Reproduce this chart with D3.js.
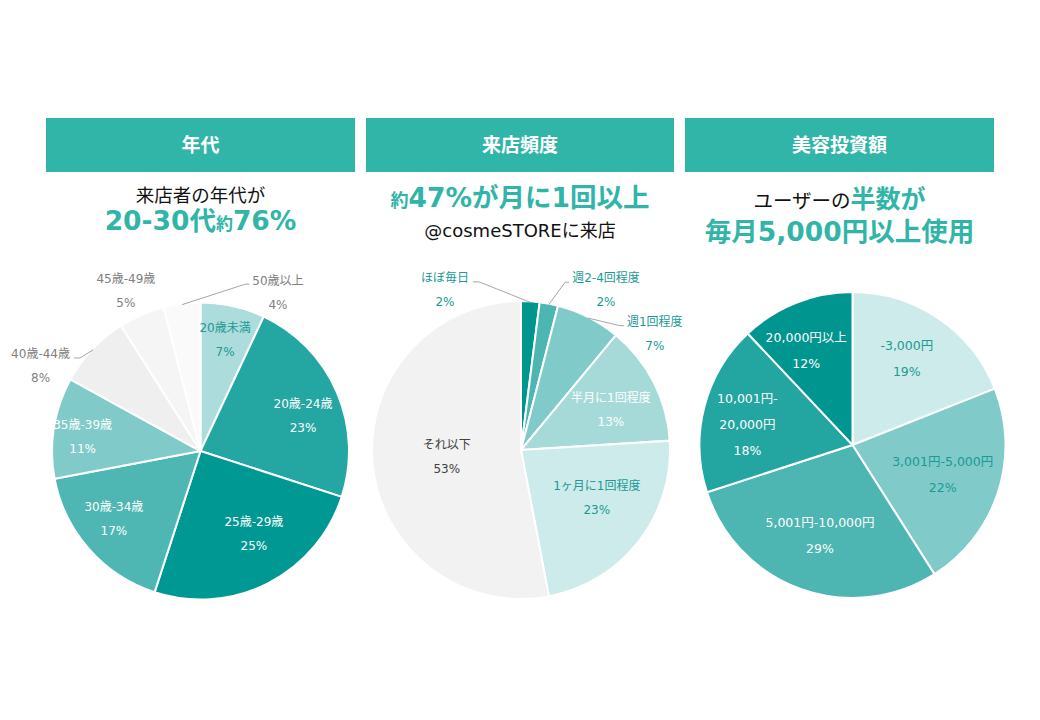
<!DOCTYPE html>
<html>
<head>
<meta charset="utf-8">
<script src="https://cdn.jsdelivr.net/npm/d3@7"></script>
<style>
  body { margin: 0; background: #fff; }
  text { font-family: "DejaVu Sans", "Noto Sans CJK JP", sans-serif; }
</style>
</head>
<body>
<div id="container"></div>
<script>
// --- data (percent) ---
const ageCategories = ['20歳未満', '20歳-24歳', '25歳-29歳', '30歳-34歳', '35歳-39歳', '40歳-44歳', '45歳-49歳', '50歳以上'];
const ageValues = [7, 23, 25, 17, 11, 8, 5, 4];

const freqCategories = ['ほぼ毎日', '週2-4回程度', '週1回程度', '半月に1回程度', '1ヶ月に1回程度', 'それ以下'];
const freqValues = [2, 2, 7, 13, 23, 53];

const spendCategories = ['-3,000円', '3,001円-5,000円', '5,001円-10,000円', '10,001円-\n20,000円', '20,000円以上'];
const spendValues = [19, 22, 29, 18, 12];

const panelTitles = ['年代', '来店頻度', '美容投資額'];

// --- styles ---
const teal = '#30b5a8';
const ageColors = ['#acdcdb', '#24a6a2', '#009893', '#4eb7b3', '#80cbc9', '#efefef', '#f5f5f5', '#fafafa'];
const ageText = ['#1a9a94', '#fff', '#fff', '#fff', '#fff', '#808080', '#808080', '#808080'];
const freqColors = ['#00968f', '#4db6b2', '#80cbc9', '#a6dad9', '#cdebea', '#f2f2f2'];
const freqText = ['#1a9a94', '#1a9a94', '#1a9a94', '#fff', '#1a9a94', '#404040'];
const spendColors = ['#cdebea', '#80cbc9', '#4db6b3', '#23a5a1', '#00968f'];
const spendText = ['#1a9a94', '#1a9a94', '#fff', '#fff', '#fff'];

// label placement: k = radius factor, a = angle override (deg), leader = draw line
const ageLayout = [
  { k: 0.77, a: 12.4 }, { k: 0.73, a: 71 }, { k: 0.66, a: 147 }, { k: 0.74, a: 232 }, { k: 0.80, a: 277 },
  { k: 1.22, a: 298, leader: true }, { k: 1.19, a: 335 }, { k: 1.19, a: 26, leader: true }
];
const freqLayout = [
  { k: 1.19, a: 334.6, leader: true }, { k: 1.215, a: 28, leader: true }, { k: 1.19, a: 49, leader: true },
  { k: 0.66, a: 66 }, { k: 0.60, a: 122 }, { k: 0.50, a: 265 }
];
const spendLayout = [
  { k: 0.67, a: 32 }, { k: 0.62, a: 108 }, { k: 0.63, a: 199.7 }, { k: 0.70, a: 281 }, { k: 0.69, a: 334 }
];

const W = 1040, H = 720;
const svg = d3.select('#container').append('svg').attr('width', W).attr('height', H);

// header bars
const headers = [[46, 355], [366, 674], [685, 994]];
headers.forEach((hb, i) => {
  svg.append('rect')
    .attr('x', hb[0]).attr('y', 118)
    .attr('width', hb[1] - hb[0]).attr('height', 54)
    .attr('fill', teal);
  svg.append('text')
    .attr('x', (hb[0] + hb[1]) / 2).attr('y', 145).attr('dy', '0.36em')
    .attr('text-anchor', 'middle').attr('fill', '#fff')
    .attr('font-size', 19).attr('font-weight', 'bold')
    .text(panelTitles[i]);
});

// headline texts
function headline(x, y, parts) {
  const t = svg.append('text').attr('x', x).attr('y', y).attr('dy', '0.36em').attr('text-anchor', 'middle');
  parts.forEach(p => {
    t.append('tspan')
      .attr('font-size', p.size)
      .attr('font-weight', p.bold ? 'bold' : 'normal')
      .attr('fill', p.color)
      .text(p.t);
  });
}
headline(200.5, 196, [{ t: '来店者の年代が', size: 18.5, color: '#111' }]);
headline(200.5, 224, [
  { t: '20-30代', size: 26.5, bold: true, color: teal },
  { t: '約', size: 17, bold: true, color: teal },
  { t: '76%', size: 26.5, bold: true, color: teal }
]);
headline(520, 201, [
  { t: '約', size: 18, bold: true, color: teal },
  { t: '47%が月に1回以上', size: 26.5, bold: true, color: teal }
]);
headline(520, 231, [{ t: '@cosmeSTOREに来店', size: 18, color: '#111' }]);
headline(839.5, 202, [
  { t: 'ユーザーの', size: 19.5, color: '#111' },
  { t: '半数が', size: 25, bold: true, color: teal }
]);
headline(839.5, 235, [{ t: '毎月5,000円以上使用', size: 26.5, bold: true, color: teal }]);

function drawPie(cfg) {
  const { cx, cy, r, cats, vals, colors, textColors, layout, fontSize, lineH } = cfg;
  const pie = d3.pie().sort(null).value(d => d.v);
  const arcs = pie(cats.map((c, i) => ({ c: c, v: vals[i] })));
  const arc = d3.arc().innerRadius(0).outerRadius(r);
  const g = svg.append('g').attr('transform', `translate(${cx},${cy})`);

  g.selectAll('path')
    .data(arcs)
    .enter()
    .append('path')
    .attr('d', arc)
    .attr('fill', d => colors[d.index])
    .attr('stroke', '#fff')
    .attr('stroke-width', 2);

  arcs.forEach(d => {
    const L = layout[d.index];
    const mid = (d.startAngle + d.endAngle) / 2;
    const ang = L.a != null ? L.a * Math.PI / 180 : mid;
    const x = L.k * r * Math.sin(ang);
    const y = -L.k * r * Math.cos(ang);
    const lines = d.data.c.split('\n').concat([d.data.v + '%']);
    const n = lines.length;
    let first = null;
    lines.forEach((ln, j) => {
      const t = g.append('text')
        .attr('x', x)
        .attr('y', y + (j - (n - 1) / 2) * lineH)
        .attr('dy', '0.36em')
        .attr('text-anchor', 'middle')
        .attr('font-size', fontSize)
        .attr('fill', textColors[d.index])
        .text(ln);
      if (j === 0) first = t;
    });
    if (L.leader) {
      const sx = (r - 1) * Math.sin(mid);
      const sy = -(r - 1) * Math.cos(mid);
      const w = first.node().getComputedTextLength();
      const ly = y - (n - 1) / 2 * lineH + 4;
      let e1, e2;
      if (x < sx) {
        e1 = x + w / 2 + 4; e2 = e1 + 6;
      } else {
        e1 = x - w / 2 - 3; e2 = e1 - 4;
      }
      g.append('path')
        .attr('d', d3.line()([[e1, ly], [e2, ly], [sx, sy]]))
        .attr('fill', 'none')
        .attr('stroke', '#a6a6a6')
        .attr('stroke-width', 1);
    }
  });
}

drawPie({ cx: 200.5, cy: 451, r: 148.5, cats: ageCategories, vals: ageValues, colors: ageColors,
  textColors: ageText, layout: ageLayout, fontSize: 12, lineH: 24 });
drawPie({ cx: 521, cy: 450, r: 149, cats: freqCategories, vals: freqValues, colors: freqColors,
  textColors: freqText, layout: freqLayout, fontSize: 12, lineH: 24 });
drawPie({ cx: 852.5, cy: 445, r: 153, cats: spendCategories, vals: spendValues, colors: spendColors,
  textColors: spendText, layout: spendLayout, fontSize: 12.5, lineH: 26 });
</script>
</body>
</html>
